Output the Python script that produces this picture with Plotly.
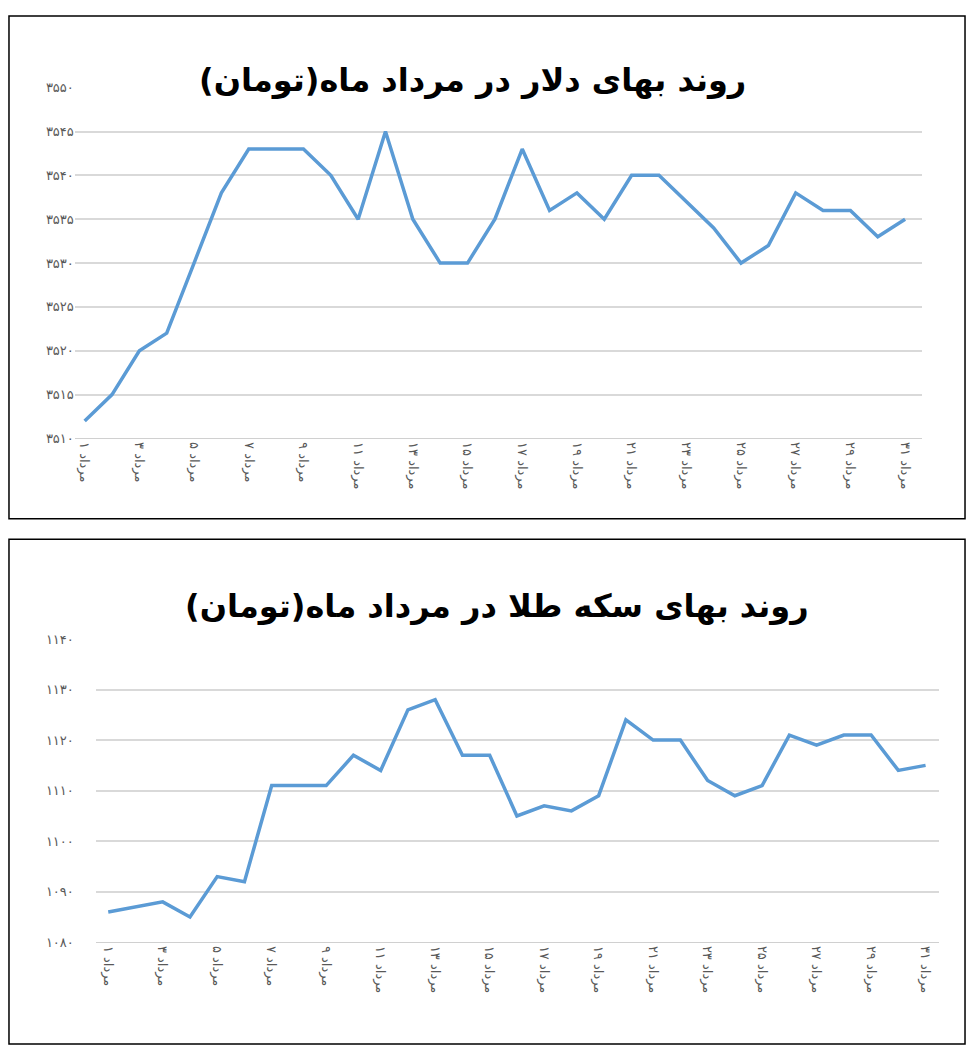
import plotly.graph_objects as go

days = list(range(1, 32))
dollar = [3512, 3515, 3520, 3522, 3530, 3538, 3543, 3543, 3543, 3540, 3535, 3545, 3535, 3530, 3530, 3535,
          3543, 3536, 3538, 3535, 3540, 3540, 3537, 3534, 3530, 3532, 3538, 3536, 3536, 3533, 3535]
coin = [1086, 1087, 1088, 1085, 1093, 1092, 1111, 1111, 1111, 1117, 1114, 1126, 1128, 1117, 1117, 1105,
        1107, 1106, 1109, 1124, 1120, 1120, 1112, 1109, 1111, 1121, 1119, 1121, 1121, 1114, 1115]
title_dollar = "روند بهای دلار در مرداد ماه(تومان)"
title_coin = "روند بهای سکه طلا در مرداد ماه(تومان)"

FA = str.maketrans("0123456789", "۰۱۲۳۴۵۶۷۸۹")
tick_days = list(range(1, 32, 2))
tick_text = [f"{str(d).translate(FA)} مرداد" for d in tick_days]
dollar_ticks = list(range(3510, 3551, 5))
coin_ticks = list(range(1080, 1141, 10))

# reference pixel frame, converted to paper fractions
W, H = 975, 1063
LINE = "#5B9BD5"
FONT = "DejaVu Sans"

fig = go.Figure()
fig.add_trace(go.Scatter(x=days, y=dollar, mode="lines", line=dict(color=LINE, width=3.5),
                         xaxis="x", yaxis="y", showlegend=False))
fig.add_trace(go.Scatter(x=days, y=coin, mode="lines", line=dict(color=LINE, width=3.5),
                         xaxis="x2", yaxis="y2", showlegend=False))

common_x = dict(tickvals=tick_days, ticktext=tick_text, tickangle=90, showgrid=False,
                showline=True, linecolor="#d0d0d0", ticks="", zeroline=False,
                tickfont=dict(family=FONT, size=13, color="#595959"))
common_y = dict(showgrid=True, gridcolor="#d9d9d9", gridwidth=1.5, zeroline=False, ticks="",
                tickfont=dict(family=FONT, size=13, color="#595959"))

fig.update_layout(
    width=958, height=1045, margin=dict(l=0, r=0, t=0, b=0),
    plot_bgcolor="white", paper_bgcolor="white",
    xaxis=dict(domain=[68 / W, 930 / W], range=[0.64, 31.61], anchor="y", **common_x),
    yaxis=dict(domain=[626 / H, 988 / H], range=[3510, 3550], tickvals=dollar_ticks,
               ticktext=[str(v).translate(FA) for v in dollar_ticks], **common_y),
    xaxis2=dict(domain=[90 / W, 948 / W], range=[0.567, 31.51], anchor="y2", **common_x),
    yaxis2=dict(domain=[106 / H, 419 / H], range=[1080, 1140], tickvals=coin_ticks,
                ticktext=[str(v).translate(FA) for v in coin_ticks], **common_y),
    shapes=[
        dict(type="rect", xref="paper", yref="paper", x0=1 / W, x1=974 / W,
             y0=1 - 520 / H, y1=1 - 1 / H, line=dict(color="black", width=1.5)),
        dict(type="rect", xref="paper", yref="paper", x0=1 / W, x1=974 / W,
             y0=1 - 1062 / H, y1=1 - 541 / H, line=dict(color="black", width=1.5)),
    ],
    annotations=[
        dict(text=f"<b>{title_dollar}</b>", xref="paper", yref="paper", x=0.485, y=1 - 45 / H,
             showarrow=False, font=dict(family=FONT, size=32, color="black")),
        dict(text=f"<b>{title_coin}</b>", xref="paper", yref="paper", x=0.51, y=1 - 610 / H,
             showarrow=False, font=dict(family=FONT, size=32, color="black")),
    ],
)

fig.write_html("out.html")
